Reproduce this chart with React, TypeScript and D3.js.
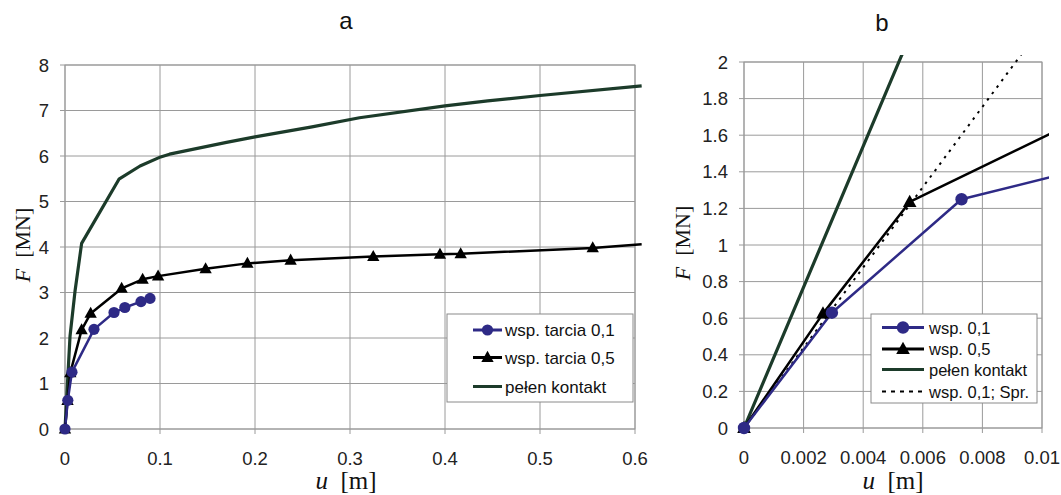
import React from "react";
import * as d3 from "d3";

// ---- data ----
const blueU = [0, 0.00295, 0.0073, 0.0305, 0.0516, 0.063, 0.08, 0.0895];
const blueF = [0, 0.63, 1.25, 2.19, 2.56, 2.67, 2.8, 2.87];
const blackU = [0, 0.00265, 0.00556, 0.0175, 0.027, 0.0596, 0.0817, 0.098, 0.148, 0.192, 0.2375, 0.3245, 0.3947, 0.4165, 0.5555, 0.607];
const blackF = [0, 0.625, 1.235, 2.18, 2.54, 3.09, 3.29, 3.36, 3.52, 3.64, 3.71, 3.79, 3.84, 3.85, 3.98, 4.06];
const greenU = [0, 0.0053, 0.0105, 0.0175, 0.0568, 0.079, 0.1007, 0.11, 0.17, 0.2, 0.26, 0.31, 0.4, 0.445, 0.5, 0.607];
const greenF = [0, 2.04, 3.02, 4.08, 5.49, 5.78, 5.98, 6.04, 6.3, 6.42, 6.64, 6.84, 7.1, 7.21, 7.33, 7.54];
const sprU = [0, 0.0093];
const sprF = [0, 2.04];

const aXTicks = ["0", "0.1", "0.2", "0.3", "0.4", "0.5", "0.6"];
const aYTicks = ["0", "1", "2", "3", "4", "5", "6", "7", "8"];
const bXTicks = ["0", "0.002", "0.004", "0.006", "0.008", "0.01"];
const bYTicks = ["0", "0.2", "0.4", "0.6", "0.8", "1", "1.2", "1.4", "1.6", "1.8", "2"];

const aLegend = ["wsp. tarcia 0,1", "wsp. tarcia 0,5", "pełen kontakt"];
const bLegend = ["wsp. 0,1", "wsp. 0,5", "pełen kontakt", "wsp. 0,1; Spr."];

const BLUE = "#2e2a86";
const GREEN = "#1c3b2a";
const BLACK = "#000";
const GRID = "#9a9a9a";
const SANS = "'Liberation Sans', Arial, sans-serif";
const SERIF = "'Liberation Serif', 'Times New Roman', serif";

type Series = { u: number[]; f: number[]; color: string; marker?: "circle" | "triangle"; dash?: string; width: number };

function tri(x: number, y: number, s: number) {
  const h = s * 0.9;
  return `M${x},${y - h * 0.6}L${x + s / 2},${y + h * 0.4}L${x - s / 2},${y + h * 0.4}Z`;
}

function Panel(props: {
  id: string;
  left: number; right: number; top: number; bottom: number;
  xTicks: string[]; yTicks: string[];
  series: Series[];
  title: string; titleX: number; titleY: number;
  yLabX: number; yLabY: number; xLabX: number; xLabY: number;
  legend: { labels: string[]; x0: number; y0: number; x1: number; y1: number; rows: number[]; lx0: number; lx1: number; tx: number; fs: number; styles: Series[] };
  r: number; ts: number;
}) {
  const p = props;
  const xVals = p.xTicks.map(Number);
  const yVals = p.yTicks.map(Number);
  const x = d3.scaleLinear().domain([xVals[0], xVals[xVals.length - 1]]).range([p.left, p.right]);
  const y = d3.scaleLinear().domain([yVals[0], yVals[yVals.length - 1]]).range([p.bottom, p.top]);
  const xMax = xVals[xVals.length - 1];
  const yMax = yVals[yVals.length - 1];
  const L = p.legend;
  return (
    <g>
      <defs>
        <clipPath id={p.id}>
          <rect x={p.left - 7} y={p.top - 7} width={p.right - p.left + 14} height={p.bottom - p.top + 14} />
        </clipPath>
      </defs>
      {xVals.map((v, i) => (
        <line key={"gx" + i} x1={x(v)} x2={x(v)} y1={p.top} y2={p.bottom + 5} stroke={GRID} strokeWidth={1} />
      ))}
      {yVals.map((v, i) => (
        <line key={"gy" + i} x1={p.left - 5} x2={p.right} y1={y(v)} y2={y(v)} stroke={GRID} strokeWidth={1} />
      ))}
      <rect x={p.left} y={p.top} width={p.right - p.left} height={p.bottom - p.top} fill="none" stroke={GRID} strokeWidth={1} />
      {xVals.map((v, i) => (
        <text key={"tx" + i} x={x(v)} y={p.bottom + 36} textAnchor="middle" fontFamily={SANS} fontSize={p.ts} fill="#222">{p.xTicks[i]}</text>
      ))}
      {yVals.map((v, i) => (
        <text key={"ty" + i} x={p.left - 16} y={y(v) + 6.5} textAnchor="end" fontFamily={SANS} fontSize={p.ts} fill="#222">{p.yTicks[i]}</text>
      ))}
      <g clipPath={`url(#${p.id})`}>
        {p.series.map((s, i) => {
          const line = d3.line<number>().x((_, k) => x(s.u[k])).y((_, k) => y(s.f[k]));
          return <path key={"s" + i} d={line(s.u) || ""} fill="none" stroke={s.color} strokeWidth={s.width} strokeDasharray={s.dash} strokeLinejoin="round" />;
        })}
      </g>
      {p.series.map((s, i) =>
        s.marker
          ? s.u.map((u, k) => {
              if (u > xMax || s.f[k] > yMax) return null;
              return s.marker === "circle" ? (
                <circle key={"m" + i + "_" + k} cx={x(u)} cy={y(s.f[k])} r={p.r} fill={s.color} />
              ) : (
                <path key={"m" + i + "_" + k} d={tri(x(u), y(s.f[k]), p.r * 2.2)} fill={s.color} />
              );
            })
          : null
      )}
      <rect x={L.x0} y={L.y0} width={L.x1 - L.x0} height={L.y1 - L.y0} fill="#fff" stroke="#8a8a8a" strokeWidth={1} />
      {L.labels.map((lab, i) => {
        const s = L.styles[i];
        const cy = L.rows[i];
        const cx = (L.lx0 + L.lx1) / 2;
        return (
          <g key={"l" + i}>
            <line x1={L.lx0} x2={L.lx1} y1={cy} y2={cy} stroke={s.color} strokeWidth={s.dash ? 2 : 3} strokeDasharray={s.dash ? "4,5" : undefined} />
            {s.marker === "circle" && <circle cx={cx} cy={cy} r={p.r} fill={s.color} />}
            {s.marker === "triangle" && <path d={tri(cx, cy, p.r * 2.2)} fill={s.color} />}
            <text x={L.tx} y={cy + 6} fontFamily={SANS} fontSize={L.fs} fill="#111">{lab}</text>
          </g>
        );
      })}
      <text x={p.titleX} y={p.titleY} textAnchor="middle" fontFamily={SANS} fontSize={24} fill="#111">{p.title}</text>
      <text transform={`translate(${p.yLabX},${p.yLabY}) rotate(-90)`} textAnchor="middle" fontFamily={SERIF} fontSize={22} fill="#111" xmlSpace="preserve">
        <tspan fontStyle="italic">F</tspan>
        <tspan>{"  [MN]"}</tspan>
      </text>
      <text x={p.xLabX} y={p.xLabY} textAnchor="middle" fontFamily={SERIF} fontSize={25} fill="#111" xmlSpace="preserve">
        <tspan fontStyle="italic">u</tspan>
        <tspan>{"  [m]"}</tspan>
      </text>
    </g>
  );
}

export default function App() {
  const blue: Series = { u: blueU, f: blueF, color: BLUE, marker: "circle", width: 2.5 };
  const black: Series = { u: blackU, f: blackF, color: BLACK, marker: "triangle", width: 2.5 };
  const green: Series = { u: greenU, f: greenF, color: GREEN, width: 3.2 };
  const spr: Series = { u: sprU, f: sprF, color: BLACK, dash: "2.5,5.5", width: 2 };
  return (
    <svg width={1061} height={495} style={{ position: "absolute", left: 0, top: 0, background: "#fff" }}>
      <rect width={1061} height={495} fill="#fff" />
      <Panel
        id="clipA"
        left={65} right={635} top={65} bottom={429}
        xTicks={aXTicks} yTicks={aYTicks}
        series={[green, black, blue]}
        title="a" titleX={346} titleY={29}
        yLabX={30} yLabY={245} xLabX={346} xLabY={489}
        legend={{ labels: aLegend, x0: 447, y0: 314, x1: 633, y1: 402, rows: [330, 357.5, 386.5], lx0: 473, lx1: 502, tx: 505, fs: 17, styles: [blue, black, green] }}
        r={5.6} ts={18.5}
      />
      <Panel
        id="clipB"
        left={744} right={1042} top={62} bottom={428}
        xTicks={bXTicks} yTicks={bYTicks}
        series={[green, spr, black, blue]}
        title="b" titleX={882} titleY={31}
        yLabX={690} yLabY={243} xLabX={893} xLabY={489}
        legend={{ labels: bLegend, x0: 871, y0: 314, x1: 1037, y1: 403, rows: [327.5, 349, 369.5, 391.5], lx0: 882, lx1: 924, tx: 929, fs: 16.5, styles: [blue, black, green, spr] }}
        r={6.2} ts={18.5}
      />
    </svg>
  );
}
